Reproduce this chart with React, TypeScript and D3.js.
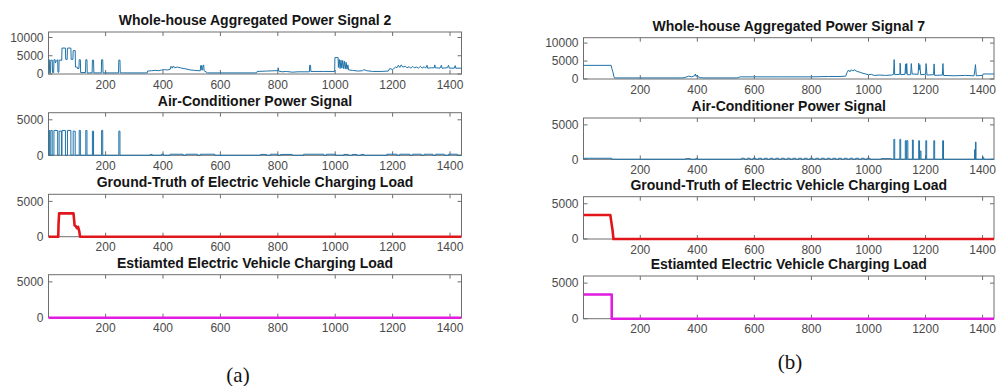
import React from 'react';
import * as d3 from 'd3';

type Pt = [number, number];
type Pulse = [number, number, number]; // start minute, end minute, watts

const MINUTE_RANGE: [number, number] = [1, 1440];
const X_TICKS = [200, 400, 600, 800, 1000, 1200, 1400];
const Y_TICKS_AGG = [0, 5000, 10000];
const Y_TICKS_SUB = [0, 5000];

const TITLES_2 = [
  'Whole-house Aggregated Power Signal 2',
  'Air-Conditioner Power Signal',
  'Ground-Truth of Electric Vehicle Charging Load',
  'Estiamted Electric Vehicle Charging Load',
];
const TITLES_7 = [
  'Whole-house Aggregated Power Signal 7',
  'Air-Conditioner Power Signal',
  'Ground-Truth of Electric Vehicle Charging Load',
  'Estiamted Electric Vehicle Charging Load',
];

// ---- House 2 ----
const agg2: Pt[] = [
  [1, 3900], [4, 3900], [5, 300], [8, 300], [9, 3800], [14, 3800], [15, 400], [19, 400],
  [20, 3900], [24, 3900], [25, 3000], [28, 3600], [33, 3900], [34, 500], [37, 500],
  [38, 3800], [46, 3800], [47, 3700], [48, 7100], [60, 7100], [61, 4000], [66, 4000],
  [67, 7100], [79, 7100], [80, 4000], [86, 4000], [87, 6400], [94, 6400], [95, 1900],
  [101, 1900], [102, 1500], [107, 1500], [108, 3900], [112, 3900], [113, 400], [130, 400],
  [131, 3900], [135, 3900], [136, 300], [153, 300], [154, 3800], [158, 3800], [159, 300],
  [185, 300], [186, 3900], [190, 3900], [191, 300], [245, 300], [246, 3800], [250, 3800],
  [251, 300], [345, 300], [346, 800], [360, 900], [375, 1000], [385, 900], [395, 1100],
  [405, 1200], [415, 1100], [425, 1300], [428, 2100], [432, 1600], [436, 2200], [440, 1700],
  [450, 1900], [460, 1700], [470, 1500], [480, 1400], [495, 1100], [510, 1000], [525, 900],
  [530, 900], [531, 2300], [534, 2300], [535, 1100], [538, 1100], [539, 2400], [542, 2400],
  [543, 900], [555, 300], [726, 300], [728, 700], [760, 800], [790, 900], [800, 900],
  [801, 1700], [803, 800], [815, 600], [830, 700], [850, 500], [870, 600], [910, 600],
  [911, 2400], [914, 2400], [915, 700], [960, 700], [998, 700], [999, 4500], [1010, 4500],
  [1011, 1800], [1014, 4000], [1017, 1500], [1020, 3800], [1023, 1600], [1026, 3700],
  [1029, 1500], [1032, 3500], [1035, 1400], [1038, 3200], [1041, 1300], [1044, 2500],
  [1047, 1100], [1060, 1000], [1080, 800], [1095, 900], [1100, 1200], [1110, 900],
  [1130, 700], [1160, 700], [1185, 800], [1190, 1500], [1200, 1200], [1210, 1900],
  [1215, 1700], [1220, 2400], [1225, 1800], [1230, 2500], [1235, 1900], [1245, 2100],
  [1250, 1700], [1258, 2000], [1263, 1600], [1270, 2100], [1275, 1700], [1283, 1900],
  [1290, 1600], [1297, 2100], [1303, 1600], [1310, 2000], [1315, 1600], [1320, 2400],
  [1322, 1600], [1335, 1700], [1345, 1700], [1347, 2500], [1349, 1700], [1365, 1600],
  [1370, 2400], [1372, 1600], [1390, 1700], [1395, 2400], [1397, 1600], [1415, 1600],
  [1418, 2300], [1420, 1600], [1440, 1600],
];

const acPulses2: Pulse[] = [
  [2, 5, 3500], [9, 14, 3500], [20, 33, 3500], [38, 46, 3400], [48, 60, 3500],
  [67, 79, 3500], [87, 94, 3400], [108, 112, 3500], [131, 135, 3500], [154, 158, 3400],
  [186, 190, 3500], [246, 250, 3400],
  [355, 362, 120], [395, 402, 150], [425, 470, 150], [480, 520, 150], [530, 580, 150],
  [740, 760, 120], [775, 800, 150], [810, 850, 120], [890, 960, 150], [970, 1000, 150],
  [1030, 1045, 120], [1060, 1075, 120], [1090, 1100, 120], [1180, 1215, 150],
  [1225, 1260, 150], [1270, 1300, 150], [1310, 1340, 150], [1350, 1380, 150], [1395, 1425, 150],
];

const evTruth2: Pt[] = [
  [1, 0], [35, 0], [36, 1800], [38, 3300], [88, 3300], [90, 2500], [92, 1600], [96, 1500],
  [100, 1200], [104, 1400], [108, 800], [111, 0], [1440, 0],
];

const evEst2: Pt[] = [[1, 0], [1440, 0]];

// ---- House 7 ----
const agg7: Pt[] = [
  [1, 3800], [98, 3800], [100, 3000], [104, 2000], [107, 800], [110, 300], [350, 300],
  [360, 500], [370, 800], [380, 600], [390, 900], [393, 1400], [396, 700], [400, 1100],
  [403, 600], [410, 400], [420, 300], [540, 300], [550, 600], [600, 600], [700, 600],
  [800, 600], [860, 700], [900, 700], [920, 800], [925, 1800], [930, 2500], [935, 2000],
  [940, 2600], [945, 2200], [950, 2600], [960, 2100], [970, 1900], [980, 1600], [990, 1400],
  [1000, 1200], [1010, 1300], [1020, 1000], [1040, 1100], [1060, 1000], [1080, 1100],
  [1088, 1300], [1090, 5400], [1092, 1200], [1110, 1300], [1111, 4400], [1113, 1200],
  [1128, 1300], [1130, 4200], [1132, 1500], [1134, 4300], [1136, 1200], [1148, 1200],
  [1150, 4300], [1153, 1400], [1174, 1300], [1176, 4400], [1178, 2500], [1180, 4000],
  [1183, 1200], [1200, 1300], [1202, 4300], [1205, 1100], [1228, 1200], [1230, 4200],
  [1232, 1000], [1259, 1100], [1261, 4300], [1263, 1000], [1300, 900], [1340, 1000],
  [1370, 900], [1373, 2500], [1375, 4000], [1378, 900], [1400, 1000], [1402, 1400],
  [1440, 1400],
];

const acPulses7: Pulse[] = [
  [1, 100, 150], [360, 375, 100], [395, 400, 120],
  [555, 565, 150], [575, 585, 150], [595, 605, 150], [615, 625, 150], [635, 645, 150],
  [655, 665, 150], [675, 685, 150], [695, 705, 150], [715, 725, 150], [735, 745, 150],
  [755, 765, 150], [775, 785, 150], [795, 805, 150], [815, 825, 150], [835, 845, 150],
  [855, 865, 150], [875, 885, 150], [895, 905, 150], [915, 925, 150], [935, 945, 150],
  [955, 965, 150], [975, 985, 150], [995, 1005, 150], [1045, 1080, 100],
  [1089, 1092, 2900], [1110, 1113, 2900], [1129, 1132, 2700], [1134, 1138, 2700],
  [1154, 1157, 2800], [1176, 1179, 2700], [1181, 1184, 1200], [1201, 1204, 2700],
  [1229, 1232, 2700], [1260, 1263, 2700], [1372, 1374, 1400], [1375, 1377, 2500],
  [1400, 1404, 300],
];

const evTruth7: Pt[] = [
  [1, 3400], [95, 3400], [100, 2000], [103, 1200], [106, 0], [1440, 0],
];

const evEst7: Pt[] = [[1, 3400], [100, 3400], [100, 0], [1440, 0]];

// turn on/off intervals into a stepped trace
function pulseTrace(pulses: Pulse[]): Pt[] {
  const pts: Pt[] = [[1, 0]];
  for (const [s, e, w] of pulses) {
    pts.push([s, 0], [s, w], [e, w], [e, 0]);
  }
  pts.push([1440, 0]);
  return pts;
}

const BLUE = '#1f72a8';
const RED = '#e0161b';
const MAGENTA = '#e11be0';
const AXIS = '#6e6e6e';
const TICK_TEXT = '#4a4a4a';
const SANS = '"Liberation Sans", Arial, Helvetica, sans-serif';

type PanelProps = {
  left: number;
  right: number;
  top: number;
  bottom: number;
  title: string;
  data: Pt[];
  color: string;
  width: number;
  yMax: number;
  yTicks: number[];
  id: string;
};

function Panel({ left, right, top, bottom, title, data, color, width, yMax, yTicks, id }: PanelProps) {
  const x = d3.scaleLinear().domain(MINUTE_RANGE).range([left, right]);
  const y = d3.scaleLinear().domain([0, yMax]).range([bottom, top]);
  const line = d3.line<Pt>().x((d) => x(d[0])).y((d) => y(d[1]));
  const tl = 4;
  return (
    <g>
      <defs>
        <clipPath id={id}>
          <rect x={left} y={top - 1} width={right - left} height={bottom - top + 3} />
        </clipPath>
      </defs>
      <rect x={left} y={top} width={right - left} height={bottom - top} fill="#fff" />
      <text
        x={(left + right) / 2}
        y={top - 7}
        textAnchor="middle"
        fontFamily={SANS}
        fontWeight="bold"
        fontSize={14}
        fill="#151515"
      >
        {title}
      </text>
      {X_TICKS.map((t) => (
        <g key={'x' + t}>
          <line x1={x(t)} x2={x(t)} y1={bottom} y2={bottom - tl} stroke={AXIS} strokeWidth={1} />
          <line x1={x(t)} x2={x(t)} y1={top} y2={top + tl} stroke={AXIS} strokeWidth={1} />
          <text
            x={x(t)}
            y={bottom + 14.5}
            textAnchor="middle"
            fontFamily={SANS}
            fontSize={12}
            fill={TICK_TEXT}
          >
            {t}
          </text>
        </g>
      ))}
      {yTicks.map((t) => (
        <g key={'y' + t}>
          <line x1={left} x2={left + tl} y1={y(t)} y2={y(t)} stroke={AXIS} strokeWidth={1} />
          <line x1={right} x2={right - tl} y1={y(t)} y2={y(t)} stroke={AXIS} strokeWidth={1} />
          <text
            x={left - 5}
            y={y(t) + 4.3}
            textAnchor="end"
            fontFamily={SANS}
            fontSize={12}
            fill={TICK_TEXT}
          >
            {t}
          </text>
        </g>
      ))}
      <rect
        x={left}
        y={top}
        width={right - left}
        height={bottom - top}
        fill="none"
        stroke={AXIS}
        strokeWidth={1}
      />
      <path
        d={line(data) || ''}
        fill="none"
        stroke={color}
        strokeWidth={width}
        strokeLinejoin="round"
        clipPath={`url(#${id})`}
      />
    </g>
  );
}

type Column = {
  left: number;
  right: number;
  tops: number[];
  bottoms: number[];
  titles: string[];
  series: Pt[][];
  caption: string;
  captionX: number;
  captionY: number;
};

const columns: Column[] = [
  {
    left: 48.5,
    right: 461.5,
    tops: [32, 112.7, 194.3, 274.7],
    bottoms: [74, 155.3, 236.7, 317.7],
    titles: TITLES_2,
    series: [agg2, pulseTrace(acPulses2), evTruth2, evEst2],
    caption: '(a)',
    captionX: 238,
    captionY: 382,
  },
  {
    left: 583.5,
    right: 994,
    tops: [37.7, 118, 196.7, 276],
    bottoms: [79, 159.3, 239, 318.7],
    titles: TITLES_7,
    series: [agg7, pulseTrace(acPulses7), evTruth7, evEst7],
    caption: '(b)',
    captionX: 790,
    captionY: 369,
  },
];

const COLORS = [BLUE, BLUE, RED, MAGENTA];
const WIDTHS = [1, 1, 2.6, 2.6];
const Y_MAX = [11500, 6000, 6000, 6000];

export default function App() {
  return (
    <svg
      width={997}
      height={386}
      viewBox="0 0 997 386"
      style={{ position: 'absolute', left: 0, top: 0, background: '#fff' }}
    >
      <rect x={0} y={0} width={997} height={386} fill="#fff" />
      {columns.map((c, ci) => (
        <g key={ci}>
          {c.titles.map((title, i) => (
            <Panel
              key={i}
              id={`clip-${ci}-${i}`}
              left={c.left}
              right={c.right}
              top={c.tops[i]}
              bottom={c.bottoms[i]}
              title={title}
              data={c.series[i]}
              color={COLORS[i]}
              width={WIDTHS[i]}
              yMax={Y_MAX[i]}
              yTicks={i === 0 ? Y_TICKS_AGG : Y_TICKS_SUB}
            />
          ))}
          <text
            x={c.captionX}
            y={c.captionY}
            textAnchor="middle"
            fontFamily='"Liberation Serif", "Times New Roman", serif'
            fontSize={21}
            fill="#111"
          >
            {c.caption}
          </text>
        </g>
      ))}
    </svg>
  );
}
